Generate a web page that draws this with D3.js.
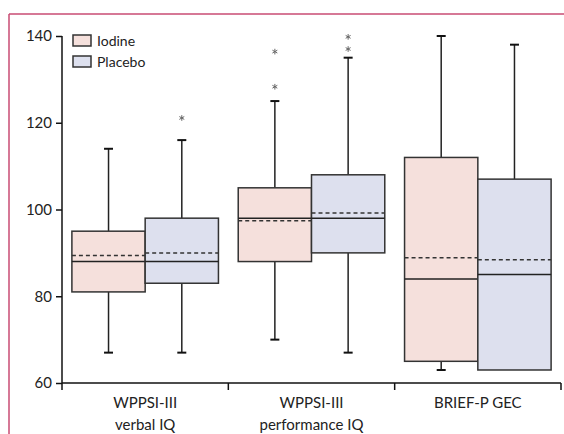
<!DOCTYPE html>
<html><head><meta charset="utf-8">
<script src="https://cdn.jsdelivr.net/npm/d3@7"></script>
<style>body{margin:0;background:#fff}svg{display:block}text{font-family:Lato,"Open Sans",sans-serif;fill:#222}</style>
</head><body><div id="chart"></div>
<script>
const categories = ["WPPSI-III\nverbal IQ", "WPPSI-III\nperformance IQ", "BRIEF-P GEC"];
const groups = ["Iodine", "Placebo"];
// [min whisker, Q1, median, Q3, max whisker, mean]
const iodineStats = [
  [67, 81, 88, 95, 114, 89.4],
  [70, 88, 98, 105, 125, 97.4],
  [63, 65, 84, 112, 140, 88.9]
];
const placeboStats = [
  [67, 83, 88, 98, 116, 90],
  [67, 90, 98, 108, 135, 99.2],
  [63, 63, 85, 107, 138, 88.4]
];
const iodineOutliers = [[], [128.3, 136.4], []];
const placeboOutliers = [[121.1], [137.0, 139.8], []];
const yTicks = [60, 80, 100, 120, 140];
const colors = {Iodine: "#f5e0dc", Placebo: "#dde0ee"};

const W = 564, H = 434;
const svg = d3.select("#chart").append("svg").attr("width", W).attr("height", H);

// frame lines
svg.append("line").attr("x1", 9).attr("x2", W).attr("y1", 14).attr("y2", 14).attr("stroke", "#c94b73").attr("stroke-width", 1.5);
svg.append("line").attr("x1", 9).attr("x2", 9).attr("y1", 14).attr("y2", H).attr("stroke", "#c94b73").attr("stroke-width", 1.5);

const x0 = d3.scaleBand().domain(categories).range([62, 561]).paddingInner(0).paddingOuter(0);
const x1 = d3.scaleBand().domain(groups).range([0, x0.bandwidth()]).paddingInner(0).paddingOuter(0.135);
const y = d3.scaleLinear().domain([60, 140]).range([383, 36]);

// y axis
const yAxis = svg.append("g").attr("transform", "translate(62,0)")
  .call(d3.axisLeft(y).tickValues(yTicks).tickSize(6).tickPadding(4));
yAxis.select(".domain").attr("stroke", "#111").attr("stroke-width", 1.5).attr("d", "M0,36V383");
yAxis.selectAll(".tick line").attr("stroke", "#111").attr("stroke-width", 1.5);
yAxis.selectAll(".tick text").style("font-size", "15px").style("font-family", "Lato, sans-serif").attr("fill", "#222");

// x axis
const xAxisG = svg.append("g").attr("transform", "translate(0,383)");
xAxisG.append("line").attr("x1", 62).attr("x2", 561).attr("stroke", "#111").attr("stroke-width", 1.5);
const xTickPos = categories.map(c => x0(c)).concat([x0.range()[1]]);
xAxisG.selectAll(".xt").data(xTickPos).join("line").attr("class", "xt")
  .attr("x1", d => d).attr("x2", d => d).attr("y1", 0).attr("y2", 7).attr("stroke", "#111").attr("stroke-width", 1.5);
categories.forEach(c => {
  const lines = c.split("\n");
  const t = xAxisG.append("text").attr("x", x0(c) + x0.bandwidth() / 2).attr("y", 25)
    .attr("text-anchor", "middle").style("font-size", "15px");
  lines.forEach((l, i) => t.append("tspan").attr("x", x0(c) + x0.bandwidth() / 2).attr("dy", i === 0 ? 0 : 22).text(l));
});

// boxes
const data = [];
categories.forEach((c, i) => {
  data.push({cat: c, g: "Iodine", s: iodineStats[i], o: iodineOutliers[i]});
  data.push({cat: c, g: "Placebo", s: placeboStats[i], o: placeboOutliers[i]});
});
const bw = x1.bandwidth();
const capW = 9;
const star = d3.symbol().type(d3.symbolAsterisk).size(22);
data.forEach(d => {
  const left = x0(d.cat) + x1(d.g);
  const cx = left + bw / 2;
  const [mn, q1, med, q3, mx, mean] = d.s;
  const g = svg.append("g");
  // whiskers
  g.append("line").attr("x1", cx).attr("x2", cx).attr("y1", y(mx)).attr("y2", y(q3)).attr("stroke", "#222").attr("stroke-width", 1.5);
  g.append("line").attr("x1", cx).attr("x2", cx).attr("y1", y(q1)).attr("y2", y(mn)).attr("stroke", "#222").attr("stroke-width", 1.5);
  g.append("line").attr("x1", cx - capW / 2).attr("x2", cx + capW / 2).attr("y1", y(mx)).attr("y2", y(mx)).attr("stroke", "#111").attr("stroke-width", 2);
  if (mn < q1) g.append("line").attr("x1", cx - capW / 2).attr("x2", cx + capW / 2).attr("y1", y(mn)).attr("y2", y(mn)).attr("stroke", "#111").attr("stroke-width", 2);
  // box
  g.append("rect").attr("x", left).attr("y", y(q3)).attr("width", bw).attr("height", y(q1) - y(q3))
    .attr("fill", colors[d.g]).attr("stroke", "#333").attr("stroke-width", 1.5);
  g.append("line").attr("x1", left).attr("x2", left + bw).attr("y1", y(med)).attr("y2", y(med)).attr("stroke", "#222").attr("stroke-width", 1.5);
  g.append("line").attr("x1", left).attr("x2", left + bw).attr("y1", y(mean)).attr("y2", y(mean)).attr("stroke", "#333").attr("stroke-width", 1.5).attr("stroke-dasharray", "4,3");
  d.o.forEach(v => {
    g.append("path").attr("d", star).attr("transform", `translate(${cx},${y(v)})`)
      .attr("fill", "none").attr("stroke", "#666").attr("stroke-width", 1);
  });
});

// legend
groups.forEach((gname, i) => {
  const ly = 35 + i * 21;
  svg.append("rect").attr("x", 73).attr("y", ly).attr("width", 18).attr("height", 11)
    .attr("fill", colors[gname]).attr("stroke", "#333").attr("stroke-width", 1.5);
  svg.append("text").attr("x", 97).attr("y", ly + 11).style("font-size", "14px").text(gname);
});
</script></body></html>
